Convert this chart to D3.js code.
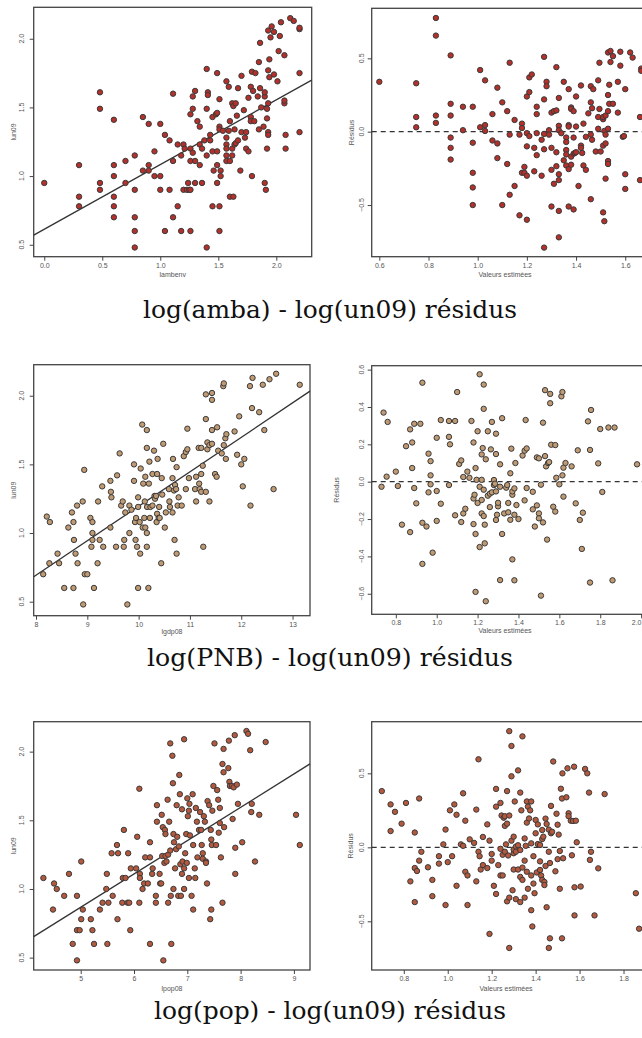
<!DOCTYPE html>
<html>
<head>
<meta charset="utf-8">
<script src="https://cdn.jsdelivr.net/npm/d3@7"></script>
<style>
  body { margin: 0; background: #fff; }
  .tick-label { font-family: 'Liberation Sans', sans-serif; font-size: 7px; fill: #555; }
  .axis-title { font-family: 'Liberation Sans', sans-serif; font-size: 7px; fill: #555; }
  .caption { font-family: 'DejaVu Serif', 'Liberation Serif', serif; font-size: 25px; fill: #111; }
</style>
</head>
<body>
<svg id="chart" width="642" height="1038"></svg>
<script>
// ---- data: [x, y] pairs ----
const ambaPoints = [[0.00,0.95],[0.30,1.08],[0.30,0.85],[0.30,0.78],[0.48,1.61],[0.48,1.49],[0.48,0.95],[0.48,0.90],[0.60,1.41],[0.60,1.08],[0.60,1.00],[0.60,0.85],[0.60,0.78],[0.60,0.70],[0.70,1.11],[0.70,0.95],[0.78,1.15],[0.78,0.90],[0.78,0.70],[0.78,0.60],[0.78,0.48],[0.85,1.43],[0.85,1.04],[0.90,1.38],[0.90,1.08],[0.90,1.04],[0.95,1.18],[0.95,1.00],[1.00,1.38],[1.00,1.00],[1.00,0.90],[1.04,1.30],[1.04,0.60],[1.08,0.90],[1.08,1.26],[1.11,1.60],[1.11,1.11],[1.11,0.70],[1.15,1.23],[1.15,0.78],[1.18,1.15],[1.18,0.60],[1.20,1.23],[1.21,1.20],[1.20,0.90],[1.23,0.90],[1.24,0.95],[1.25,0.90],[1.26,1.45],[1.26,1.20],[1.26,1.11],[1.26,0.90],[1.26,0.60],[1.28,1.58],[1.28,1.49],[1.28,1.17],[1.30,1.62],[1.30,1.11],[1.30,0.95],[1.32,1.40],[1.34,1.36],[1.34,1.23],[1.34,1.08],[1.36,1.20],[1.36,0.95],[1.38,1.26],[1.40,1.78],[1.40,1.49],[1.40,1.15],[1.40,0.48],[1.41,1.61],[1.41,1.59],[1.43,1.30],[1.43,1.26],[1.45,1.43],[1.45,1.18],[1.45,0.78],[1.46,1.04],[1.48,1.45],[1.49,1.75],[1.49,1.18],[1.49,0.95],[1.49,1.46],[1.49,1.08],[1.51,1.36],[1.51,1.34],[1.51,0.78],[1.51,0.60],[1.51,1.56],[1.52,1.04],[1.52,1.00],[1.54,1.33],[1.57,1.69],[1.57,1.28],[1.57,1.23],[1.57,1.20],[1.57,1.15],[1.57,1.11],[1.59,1.65],[1.59,1.33],[1.60,1.40],[1.60,1.11],[1.60,0.85],[1.62,1.53],[1.62,1.20],[1.62,1.15],[1.63,1.51],[1.63,0.85],[1.64,1.23],[1.64,1.34],[1.65,1.53],[1.65,1.24],[1.66,1.44],[1.67,1.64],[1.67,1.26],[1.69,1.04],[1.70,1.73],[1.70,1.32],[1.72,1.48],[1.73,1.28],[1.74,1.32],[1.74,1.20],[1.76,1.57],[1.76,1.18],[1.78,1.65],[1.78,1.43],[1.78,1.40],[1.79,1.76],[1.79,1.00],[1.80,1.62],[1.81,1.40],[1.82,1.75],[1.84,1.58],[1.85,1.34],[1.85,1.83],[1.86,1.97],[1.86,1.64],[1.87,1.50],[1.89,1.36],[1.90,1.58],[1.90,1.61],[1.90,0.95],[1.91,0.90],[1.92,1.42],[1.92,1.49],[1.92,1.20],[1.93,2.06],[1.93,1.77],[1.93,1.53],[1.93,1.32],[1.93,1.30],[1.94,1.85],[1.94,1.72],[1.95,2.01],[1.96,2.09],[1.98,2.05],[1.98,1.74],[2.01,1.69],[2.02,1.91],[2.03,2.02],[2.04,2.12],[2.07,1.88],[2.07,1.53],[2.07,1.55],[2.08,1.30],[2.08,1.20],[2.12,2.15],[2.15,2.13],[2.20,2.07],[2.20,1.75],[2.20,1.32],[2.20,2.08]]

const ambaResid = [[0.60,0.34],[0.75,0.33],[0.75,0.10],[0.75,0.03],[0.83,0.775],[0.83,0.655],[0.83,0.11],[0.83,0.06],[0.89,0.52],[0.89,0.19],[0.89,0.11],[0.89,-0.04],[0.89,-0.11],[0.89,-0.19],[0.94,0.17],[0.94,0.01],[0.98,0.17],[0.98,-0.075],[0.98,-0.28],[0.98,-0.38],[0.98,-0.50],[1.01,0.42],[1.01,0.03],[1.03,0.35],[1.03,0.045],[1.03,0.005],[1.06,0.12],[1.06,-0.06],[1.08,0.30],[1.08,-0.08],[1.08,-0.18],[1.10,0.20],[1.10,-0.50],[1.12,0.14],[1.12,-0.22],[1.13,0.47],[1.13,-0.02],[1.13,-0.43],[1.15,0.08],[1.15,-0.37],[1.17,-0.02],[1.17,-0.57],[1.18,0.055],[1.18,0.025],[1.18,-0.28],[1.19,-0.24],[1.19,-0.28],[1.20,0.24],[1.20,-0.01],[1.20,-0.10],[1.20,-0.30],[1.20,-0.60],[1.21,0.27],[1.21,0.37],[1.21,-0.03],[1.22,0.39],[1.23,-0.11],[1.23,-0.27],[1.24,0.17],[1.24,0.12],[1.24,-0.01],[1.24,-0.16],[1.26,-0.055],[1.26,-0.30],[1.27,-0.015],[1.27,0.51],[1.27,0.22],[1.27,-0.12],[1.27,-0.79],[1.28,0.34],[1.28,0.31],[1.29,0.01],[1.29,-0.02],[1.30,0.13],[1.30,-0.11],[1.30,-0.26],[1.30,-0.51],[1.31,0.14],[1.31,-0.355],[1.32,0.44],[1.32,0.145],[1.32,-0.14],[1.32,-0.235],[1.33,0.04],[1.33,0.01],[1.33,-0.29],[1.33,-0.33],[1.33,-0.54],[1.33,-0.72],[1.33,0.23],[1.34,-0.01],[1.35,-0.195],[1.35,0.34],[1.36,-0.04],[1.36,-0.07],[1.36,-0.125],[1.36,-0.155],[1.36,-0.23],[1.37,0.29],[1.37,0.045],[1.37,0.035],[1.37,-0.255],[1.37,-0.51],[1.38,0.165],[1.38,-0.17],[1.38,-0.225],[1.38,0.155],[1.39,0.14],[1.39,-0.53],[1.39,-0.04],[1.39,-0.15],[1.395,-0.145],[1.40,0.035],[1.40,0.24],[1.40,-0.14],[1.41,-0.37],[1.42,0.315],[1.42,-0.095],[1.42,-0.11],[1.425,-0.145],[1.43,0.055],[1.43,-0.23],[1.44,-0.035],[1.44,-0.26],[1.45,0.125],[1.46,0.20],[1.46,-0.02],[1.46,0.31],[1.46,-0.46],[1.465,-0.055],[1.465,0.16],[1.47,0.29],[1.48,-0.135],[1.49,0.35],[1.49,0.10],[1.49,0.02],[1.495,0.47],[1.495,0.155],[1.50,-0.135],[1.51,0.085],[1.51,0.10],[1.51,-0.095],[1.515,0.005],[1.51,-0.55],[1.52,0.11],[1.52,-0.02],[1.515,-0.61],[1.52,-0.08],[1.52,-0.32],[1.53,0.54],[1.53,0.25],[1.53,0.14],[1.53,0.02],[1.53,-0.20],[1.53,-0.22],[1.535,0.19],[1.535,0.32],[1.54,0.475],[1.54,0.55],[1.55,0.515],[1.55,0.19],[1.57,0.34],[1.57,0.13],[1.58,0.45],[1.58,0.545],[1.59,-0.035],[1.595,-0.03],[1.60,0.29],[1.60,-0.29],[1.60,-0.39],[1.62,0.54],[1.63,0.505],[1.66,-0.33],[1.66,0.10],[1.665,0.43],[1.665,0.415]]

const gdpPoints = [[8.14,0.70],[8.21,1.12],[8.27,1.08],[8.26,0.78],[8.42,0.85],[8.45,0.78],[8.55,0.60],[8.63,1.04],[8.70,1.15],[8.73,1.08],[8.74,0.95],[8.73,0.60],[8.77,0.85],[8.81,0.78],[8.80,1.20],[8.91,1.23],[8.94,1.46],[8.92,0.48],[8.95,0.70],[9.00,0.70],[9.06,1.11],[9.08,0.90],[9.10,1.08],[9.10,1.00],[9.10,0.95],[9.13,0.60],[9.20,0.78],[9.21,1.23],[9.24,0.95],[9.31,0.90],[9.29,1.34],[9.45,1.38],[9.46,1.30],[9.47,1.26],[9.45,1.04],[9.56,0.90],[9.58,1.42],[9.63,1.58],[9.66,1.20],[9.69,1.23],[9.71,0.90],[9.72,0.95],[9.74,1.15],[9.78,0.48],[9.82,1.20],[9.82,1.00],[9.86,1.17],[9.91,1.50],[9.91,1.38],[9.93,1.08],[9.94,0.95],[9.95,1.11],[9.97,0.90],[9.99,0.60],[9.99,1.26],[9.99,1.19],[10.02,1.08],[10.03,0.85],[10.04,1.47],[10.07,1.79],[10.08,1.04],[10.09,1.36],[10.11,1.11],[10.12,1.23],[10.13,1.41],[10.13,1.04],[10.16,1.75],[10.16,1.62],[10.16,1.00],[10.16,0.90],[10.165,1.19],[10.19,0.60],[10.20,1.36],[10.21,1.52],[10.22,1.11],[10.23,1.19],[10.27,1.43],[10.27,1.20],[10.30,1.60],[10.31,1.27],[10.32,1.25],[10.34,1.27],[10.35,1.08],[10.36,1.14],[10.36,1.43],[10.37,1.54],[10.39,1.11],[10.40,1.19],[10.41,1.11],[10.44,0.78],[10.45,1.40],[10.46,1.28],[10.48,1.65],[10.51,1.04],[10.53,1.15],[10.59,1.32],[10.60,1.23],[10.61,1.19],[10.66,1.15],[10.66,1.40],[10.67,1.54],[10.69,1.31],[10.70,0.95],[10.71,1.35],[10.73,1.32],[10.74,0.85],[10.74,1.48],[10.76,1.20],[10.78,1.26],[10.84,1.20],[10.88,1.56],[10.92,1.32],[10.92,1.59],[10.95,1.76],[10.95,1.61],[10.98,1.40],[11.10,1.32],[11.12,1.41],[11.12,1.23],[11.17,1.62],[11.18,1.36],[11.19,1.32],[11.22,1.62],[11.22,1.43],[11.22,1.30],[11.25,1.49],[11.26,0.90],[11.31,2.01],[11.31,1.83],[11.31,1.30],[11.34,1.66],[11.34,1.61],[11.38,1.64],[11.38,1.23],[11.43,2.02],[11.43,1.97],[11.43,1.65],[11.43,1.75],[11.49,1.43],[11.52,1.41],[11.53,1.77],[11.55,1.60],[11.62,1.58],[11.65,2.07],[11.66,2.09],[11.66,1.64],[11.69,1.69],[11.70,1.54],[11.71,1.72],[11.87,1.74],[11.92,1.57],[11.96,1.85],[12.00,1.50],[12.06,1.54],[12.03,1.34],[12.17,2.07],[12.21,1.91],[12.22,2.13],[12.18,1.20],[12.35,1.88],[12.42,2.08],[12.45,1.75],[12.55,2.12],[12.63,1.32],[12.68,2.16],[13.14,2.08]]

const gdpResid = [[0.73,-0.027],[0.74,0.37],[0.755,0.027],[0.76,0.32],[0.80,0.054],[0.81,-0.023],[0.83,-0.23],[0.85,0.19],[0.87,0.28],[0.88,0.21],[0.87,-0.27],[0.88,0.073],[0.89,-0.034],[0.89,0.31],[0.90,-0.116],[0.92,0.31],[0.93,0.53],[0.93,-0.44],[0.93,-0.22],[0.95,-0.24],[0.96,0.15],[0.96,-0.057],[0.97,0.034],[0.97,0.11],[0.97,-0.014],[0.98,-0.38],[1.00,0.235],[1.00,-0.21],[1.00,-0.05],[1.02,-0.118],[1.02,0.33],[1.06,0.325],[1.06,0.24],[1.065,0.20],[1.06,-0.018],[1.09,0.325],[1.09,-0.18],[1.10,0.48],[1.11,0.095],[1.12,0.114],[1.12,-0.216],[1.13,0.025],[1.13,-0.17],[1.14,-0.145],[1.15,0.054],[1.16,0.021],[1.17,0.325],[1.18,0.21],[1.18,-0.09],[1.18,-0.227],[1.185,-0.07],[1.19,-0.28],[1.19,0.073],[1.195,0.01],[1.19,-0.59],[1.20,-0.114],[1.20,0.27],[1.21,-0.35],[1.21,-0.027],[1.21,0.575],[1.22,-0.098],[1.22,0.146],[1.22,0.01],[1.22,-0.17],[1.225,0.18],[1.23,-0.184],[1.23,-0.043],[1.23,0.52],[1.23,0.39],[1.235,-0.23],[1.235,-0.33],[1.24,-0.64],[1.24,0.12],[1.25,-0.075],[1.25,0.27],[1.26,-0.136],[1.26,-0.064],[1.265,0.173],[1.27,-0.057],[1.27,0.32],[1.28,0.009],[1.28,-0.018],[1.285,-0.011],[1.29,0.257],[1.29,0.148],[1.29,-0.052],[1.29,-0.205],[1.295,-0.177],[1.30,-0.132],[1.30,-0.113],[1.31,-0.527],[1.31,0.093],[1.31,-0.027],[1.32,0.34],[1.32,-0.28],[1.33,-0.17],[1.34,-0.032],[1.345,-0.018],[1.35,-0.114],[1.35,-0.164],[1.36,-0.204],[1.36,0.045],[1.365,0.177],[1.37,-0.416],[1.37,-0.07],[1.37,-0.052],[1.38,-0.177],[1.38,-0.528],[1.38,-0.036],[1.385,0.10],[1.39,-0.125],[1.40,-0.20],[1.42,0.14],[1.43,0.166],[1.43,-0.10],[1.435,0.33],[1.44,0.178],[1.44,-0.034],[1.47,-0.054],[1.47,-0.148],[1.48,-0.24],[1.49,0.13],[1.49,-0.127],[1.50,-0.17],[1.50,0.125],[1.50,-0.196],[1.51,-0.61],[1.51,-0.016],[1.52,-0.218],[1.52,0.316],[1.53,0.49],[1.53,0.137],[1.535,0.082],[1.54,-0.31],[1.545,0.10],[1.55,0.105],[1.555,0.47],[1.555,0.42],[1.56,0.198],[1.57,-0.134],[1.58,-0.16],[1.58,0.196],[1.585,0.021],[1.60,-0.014],[1.61,0.457],[1.615,0.48],[1.615,0.034],[1.62,0.075],[1.62,-0.08],[1.63,0.10],[1.66,0.082],[1.68,-0.116],[1.69,0.168],[1.70,-0.205],[1.71,-0.36],[1.715,-0.166],[1.74,0.323],[1.75,0.17],[1.75,-0.54],[1.755,0.384],[1.79,0.098],[1.80,0.282],[1.81,-0.055],[1.84,0.29],[1.86,-0.528],[1.87,0.29],[1.98,0.093]]

const popPoints = [[4.30,1.08],[4.48,0.85],[4.50,1.04],[4.55,1.00],[4.69,0.95],[4.78,1.11],[4.85,0.60],[4.93,0.70],[4.93,0.48],[4.93,0.95],[4.98,0.70],[5.01,0.78],[5.01,1.20],[5.04,0.85],[5.19,0.78],[5.22,0.70],[5.25,0.60],[5.36,0.85],[5.41,0.90],[5.48,1.00],[5.49,1.11],[5.50,0.60],[5.52,0.90],[5.58,1.26],[5.60,0.95],[5.68,1.32],[5.69,0.78],[5.70,1.26],[5.78,0.90],[5.79,1.08],[5.81,1.43],[5.84,1.08],[5.88,0.90],[5.89,1.26],[5.91,0.90],[5.93,0.70],[5.94,1.15],[6.06,1.38],[6.04,1.15],[6.10,1.73],[6.11,1.11],[6.11,1.08],[6.10,0.90],[6.16,1.00],[6.19,1.04],[6.21,1.23],[6.26,1.04],[6.30,1.34],[6.30,1.23],[6.30,0.60],[6.34,1.11],[6.35,1.15],[6.41,0.95],[6.41,0.90],[6.43,1.61],[6.43,1.49],[6.48,1.11],[6.49,1.04],[6.51,1.04],[6.52,1.54],[6.53,1.24],[6.54,1.45],[6.55,0.48],[6.57,1.19],[6.58,1.43],[6.59,1.40],[6.59,1.24],[6.61,1.20],[6.64,0.90],[6.63,1.65],[6.64,1.25],[6.66,1.49],[6.68,2.06],[6.68,1.28],[6.69,0.95],[6.70,0.60],[6.72,1.97],[6.73,1.77],[6.74,1.40],[6.74,1.00],[6.75,1.34],[6.77,1.15],[6.79,1.29],[6.80,1.61],[6.81,1.38],[6.83,0.95],[6.84,1.31],[6.85,1.83],[6.86,1.69],[6.87,1.18],[6.88,0.95],[6.90,1.58],[6.90,1.11],[6.91,1.20],[6.94,1.00],[6.94,2.09],[6.94,1.15],[6.96,1.26],[6.98,1.40],[6.99,1.19],[7.00,1.66],[7.01,1.53],[7.03,1.57],[7.03,1.08],[7.04,1.62],[7.05,1.39],[7.08,0.95],[7.10,1.69],[7.11,0.85],[7.11,1.32],[7.14,1.15],[7.15,1.08],[7.16,1.59],[7.18,1.49],[7.19,1.23],[7.22,1.43],[7.24,1.56],[7.26,1.43],[7.27,1.32],[7.29,1.26],[7.29,1.22],[7.31,1.53],[7.33,1.49],[7.35,1.20],[7.35,1.19],[7.37,1.04],[7.38,1.64],[7.41,1.61],[7.43,0.78],[7.44,1.43],[7.45,0.85],[7.45,1.36],[7.46,1.32],[7.47,1.57],[7.49,1.75],[7.51,2.06],[7.54,1.32],[7.56,1.72],[7.58,1.65],[7.59,1.41],[7.61,1.48],[7.61,1.59],[7.63,1.23],[7.66,1.91],[7.66,0.90],[7.68,2.02],[7.68,1.85],[7.69,1.45],[7.77,1.88],[7.78,2.08],[7.79,1.78],[7.80,1.75],[7.84,1.75],[7.85,1.51],[7.87,1.74],[7.89,2.12],[7.90,1.30],[7.90,1.11],[7.93,1.76],[7.95,1.62],[8.03,1.34],[8.11,2.15],[8.14,2.13],[8.18,2.01],[8.20,1.56],[8.21,1.62],[8.27,1.20],[8.35,1.54],[8.47,2.07],[9.04,1.54],[9.11,1.32]]

const popResid = [[0.70,0.38],[0.74,0.29],[0.74,0.11],[0.76,0.24],[0.79,0.16],[0.81,0.30],[0.83,-0.23],[0.85,-0.14],[0.85,0.10],[0.85,-0.37],[0.86,-0.16],[0.87,0.33],[0.87,-0.09],[0.88,-0.03],[0.91,-0.135],[0.93,-0.22],[0.93,-0.33],[0.96,-0.11],[0.96,-0.06],[0.98,0.02],[0.99,0.12],[0.99,-0.39],[1.00,-0.10],[1.01,0.25],[1.02,-0.06],[1.03,0.29],[1.04,0.22],[1.04,-0.26],[1.06,0.02],[1.07,0.365],[1.07,0.01],[1.08,-0.165],[1.08,0.18],[1.09,-0.19],[1.09,-0.39],[1.10,0.054],[1.12,0.03],[1.13,0.255],[1.13,-0.23],[1.14,0.595],[1.14,-0.03],[1.145,-0.06],[1.15,-0.15],[1.16,-0.12],[1.16,0.07],[1.18,-0.14],[1.18,0.155],[1.19,-0.585],[1.19,0.045],[1.20,-0.045],[1.20,-0.09],[1.21,-0.26],[1.22,0.395],[1.22,0.275],[1.22,-0.315],[1.23,-0.12],[1.24,-0.19],[1.24,-0.01],[1.24,0.30],[1.245,0.215],[1.25,-0.05],[1.25,-0.19],[1.255,0.20],[1.26,0.145],[1.26,-0.03],[1.26,0.21],[1.265,0.02],[1.27,-0.365],[1.27,0.38],[1.27,0.16],[1.275,-0.055],[1.28,0.785],[1.28,0.215],[1.28,-0.34],[1.28,-0.68],[1.29,0.685],[1.29,0.48],[1.29,0.045],[1.295,-0.29],[1.30,-0.04],[1.30,-0.015],[1.30,0.072],[1.30,-0.15],[1.305,0.31],[1.31,0.005],[1.31,-0.03],[1.31,-0.35],[1.32,-0.15],[1.32,0.52],[1.32,0.014],[1.33,0.37],[1.33,-0.37],[1.33,-0.018],[1.33,-0.20],[1.335,0.25],[1.34,-0.22],[1.34,-0.137],[1.34,0.75],[1.35,-0.34],[1.35,-0.09],[1.35,0.06],[1.355,0.01],[1.36,-0.165],[1.36,0.31],[1.36,0.167],[1.365,0.275],[1.365,-0.28],[1.37,0.195],[1.375,0.25],[1.38,-0.425],[1.38,0.31],[1.38,0.027],[1.38,-0.19],[1.385,-0.535],[1.39,-0.06],[1.39,-0.245],[1.395,-0.31],[1.40,0.185],[1.40,0.095],[1.405,-0.17],[1.41,0.155],[1.41,0.022],[1.42,-0.153],[1.42,-0.095],[1.42,0.016],[1.425,-0.19],[1.43,-0.22],[1.43,0.117],[1.43,0.056],[1.435,0.072],[1.44,-0.234],[1.44,-0.255],[1.445,-0.126],[1.445,0.194],[1.45,-0.405],[1.45,0.158],[1.46,0.12],[1.46,-0.03],[1.46,-0.68],[1.465,-0.106],[1.465,-0.615],[1.47,0.095],[1.47,0.28],[1.475,0.105],[1.48,0.58],[1.49,-0.162],[1.495,0.227],[1.50,0.153],[1.50,-0.08],[1.505,0.086],[1.51,-0.025],[1.51,-0.28],[1.515,0.396],[1.52,-0.615],[1.52,0.33],[1.522,0.50],[1.525,-0.074],[1.54,0.338],[1.545,0.534],[1.55,0.23],[1.55,0.21],[1.56,0.18],[1.565,-0.054],[1.57,0.178],[1.575,0.545],[1.577,-0.27],[1.577,-0.46],[1.583,0.18],[1.587,0.034],[1.605,-0.265],[1.625,0.53],[1.635,0.50],[1.643,0.37],[1.647,-0.085],[1.652,-0.03],[1.668,-0.46],[1.685,-0.142],[1.714,0.36],[1.856,-0.31],[1.871,-0.55]]

// fitted regression lines [intercept, slope] for the left panels
const ambaFit = [0.613, 0.471]
const gdpFit = [-1.315, 0.251]
const popFit = [-0.346, 0.2426]

// tick values
const ambaXTicks = [0, 0.5, 1, 1.5, 2]
const unYTicks = [0.5, 1, 1.5, 2]
const gdpXTicks = [8, 9, 10, 11, 12, 13]
const popXTicks = [5, 6, 7, 8, 9]
const ambaResXTicks = [0.6, 0.8, 1.0, 1.2, 1.4, 1.6]
const gdpResXTicks = [0.8, 1.0, 1.2, 1.4, 1.6, 1.8, 2.0]
const popResXTicks = [0.8, 1.0, 1.2, 1.4, 1.6, 1.8]
const halfResYTicks = [-0.5, 0, 0.5]
const gdpResYTicks = [-0.6, -0.4, -0.2, 0, 0.2, 0.4, 0.6]

const captions = ['log(amba) - log(un09) résidus', 'log(PNB) - log(un09) résidus', 'log(pop) - log(un09) résidus']

const fmt1 = d3.format('.1f')
const fmtInt = d3.format('d')
const W = 642

// panel layout
const panels = [
  { pts: ambaPoints, box: [33.7, 7.3, 311.7, 256.7], xd: [-0.091, 2.305], yd: [0.413, 2.229], xt: ambaXTicks, yt: unYTicks, fx: fmt1, fy: fmt1, xTitle: 'lambenv', yTitle: 'lun09', yLab: 21.7, yTit: 13.3, xTit: 172.7, xTitDy: 20, fill: '#b3302b', fit: ambaFit },
  { pts: ambaResid, box: [371.7, 8.3, 700, 256.7], xd: [0.569, 1.904], yd: [-0.852, 0.841], xt: ambaResXTicks, yt: halfResYTicks, fx: fmt1, fy: fmt1, xTitle: 'Valeurs estimées', yTitle: 'Résidus', yLab: 361, yTit: 351.7, xTit: 505, xTitDy: 20, fill: '#b3302b', dash: true },
  { pts: gdpPoints, box: [33.7, 364.7, 310, 615.7], xd: [7.955, 13.34], yd: [0.398, 2.226], xt: gdpXTicks, yt: unYTicks, fx: fmtInt, fy: fmt1, xTitle: 'lgdp08', yTitle: 'lun09', yLab: 21.7, yTit: 13.3, xTit: 172, xTitDy: 18, fill: '#c09a72', fit: gdpFit },
  { pts: gdpResid, box: [371.7, 365.7, 700, 614.3], xd: [0.682, 2.288], yd: [-0.710, 0.621], xt: gdpResXTicks, yt: gdpResYTicks, fx: fmt1, fy: fmt1, xTitle: 'Valeurs estimées', yTitle: 'Résidus', yLab: 361, yTit: 336.7, xTit: 505, xTitDy: 19, fill: '#c09a72', dash: true },
  { pts: popPoints, box: [33.7, 721.7, 310, 970], xd: [4.118, 9.302], yd: [0.410, 2.218], xt: popXTicks, yt: unYTicks, fx: fmtInt, fy: fmt1, xTitle: 'lpop08', yTitle: 'lun09', yLab: 21.7, yTit: 13.3, xTit: 172, xTitDy: 21, fill: '#b5593e', fit: popFit },
  { pts: popResid, box: [371.7, 721.7, 700, 970], xd: [0.654, 2.148], yd: [-0.829, 0.849], xt: popResXTicks, yt: halfResYTicks, fx: fmt1, fy: fmt1, xTitle: 'Valeurs estimées', yTitle: 'Résidus', yLab: 361, yTit: 350, xTit: 506, xTitDy: 21, fill: '#b5593e', dash: true }
]

const svg = d3.select('#chart')

panels.forEach(function (p) {
  const [l, t, r, b] = p.box
  const x = d3.scaleLinear().domain(p.xd).range([l, r])
  const y = d3.scaleLinear().domain(p.yd).range([b, t])
  const g = svg.append('g')

  // box
  g.append('rect')
    .attr('x', l).attr('y', t).attr('width', r - l).attr('height', b - t)
    .attr('fill', 'none').attr('stroke', '#444').attr('stroke-width', 1.3)

  // x axis ticks + labels
  const xa = g.append('g').attr('transform', 'translate(0,' + b + ')')
    .call(d3.axisBottom(x).tickValues(p.xt).tickFormat(p.fx).tickSize(4).tickPadding(2))
  xa.select('.domain').remove()
  xa.attr('font-size', null).attr('font-family', null)
  xa.selectAll('line').attr('stroke', '#444')
  xa.selectAll('text')
    .attr('class', 'tick-label').attr('fill', null)
    .each(function (d) {
      // keep the last label inside the page edge
      if (x(d) + 6 > W) d3.select(this).attr('text-anchor', 'end').attr('x', W - 1 - x(d))
    })

  // y axis ticks + rotated labels
  const ya = g.append('g').attr('transform', 'translate(' + l + ',0)')
    .call(d3.axisLeft(y).tickValues(p.yt).tickFormat(p.fy).tickSize(4))
  ya.select('.domain').remove()
  ya.selectAll('line').attr('stroke', '#444')
  ya.selectAll('text').remove()
  g.selectAll('.ylab').data(p.yt).enter().append('text')
    .attr('class', 'tick-label ylab')
    .attr('text-anchor', 'middle')
    .attr('dominant-baseline', 'central')
    .attr('transform', function (d) { return 'translate(' + p.yLab + ',' + y(d) + ') rotate(-90)' })
    .text(p.fy)

  // axis titles
  g.append('text').attr('class', 'axis-title')
    .attr('x', p.xTit).attr('y', b + p.xTitDy).attr('text-anchor', 'middle')
    .text(p.xTitle)
  g.append('text').attr('class', 'axis-title')
    .attr('text-anchor', 'middle').attr('dominant-baseline', 'central')
    .attr('transform', 'translate(' + p.yTit + ',' + (t + b) / 2 + ') rotate(-90)')
    .text(p.yTitle)

  // reference lines
  if (p.fit) {
    g.append('line')
      .attr('x1', x(p.xd[0])).attr('y1', y(p.fit[0] + p.fit[1] * p.xd[0]))
      .attr('x2', x(p.xd[1])).attr('y2', y(p.fit[0] + p.fit[1] * p.xd[1]))
      .attr('stroke', '#333').attr('stroke-width', 1.3)
  }
  if (p.dash) {
    g.append('line')
      .attr('x1', l).attr('x2', r).attr('y1', y(0)).attr('y2', y(0))
      .attr('stroke', '#333').attr('stroke-width', 1.2).attr('stroke-dasharray', '5,4')
  }

  // points
  g.selectAll('circle').data(p.pts).enter().append('circle')
    .attr('cx', function (d) { return x(d[0]) })
    .attr('cy', function (d) { return y(d[1]) })
    .attr('r', 2.7)
    .attr('fill', p.fill)
    .attr('stroke', '#3a3a3a')
    .attr('stroke-width', 1)
})

// captions, fitted to the width they take in the original
const captionY = [318, 666, 1019]
const captionW = [374, 366, 352]
svg.selectAll('.caption').data(captions).enter().append('text')
  .attr('class', 'caption')
  .attr('x', 330)
  .attr('y', function (d, i) { return captionY[i] })
  .attr('text-anchor', 'middle')
  .attr('textLength', function (d, i) { return captionW[i] })
  .attr('lengthAdjust', 'spacingAndGlyphs')
  .text(function (d) { return d })
</script>
</body>
</html>
